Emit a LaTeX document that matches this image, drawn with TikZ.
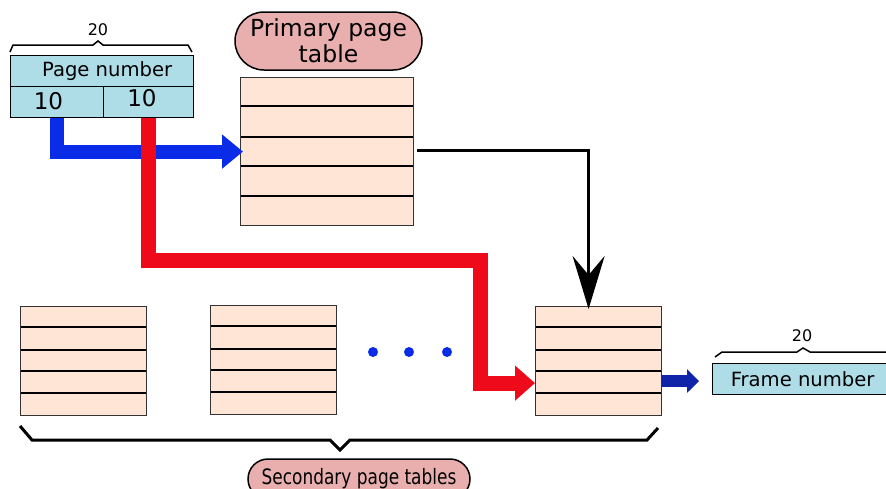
\documentclass[tikz,border=0pt]{standalone}
\usepackage{fontspec}
\setmainfont{DejaVu Sans}
\newfontfamily\condfont{DejaVu Sans}[FakeStretch=0.8]
\usetikzlibrary{arrows.meta,calc}
\definecolor{tblfill}{RGB}{255,229,213}
\definecolor{cellfill}{RGB}{174,221,232}
\definecolor{pillfill}{RGB}{232,175,174}
\definecolor{flowblue}{RGB}{10,43,232}
\definecolor{flowred}{RGB}{238,10,26}
\definecolor{flowdark}{RGB}{16,36,170}
\begin{document}
\begin{tikzpicture}[x=1pt,y=-1pt,
  tbl/.style={draw=black!80, line width=1.2pt, fill=tblfill, anchor=north west, inner sep=0pt,
    minimum width=126pt, minimum height=109pt},
  rowline/.style={line width=1.4pt, black},
  cell/.style={draw=black, line width=1.3pt, fill=cellfill, anchor=north west, inner sep=0pt,
    font=\fontsize{19.6}{22}\selectfont},
  celltext/.style={inner sep=0pt, font=\fontsize{23}{26}\selectfont},
  pill/.style={draw=black, line width=1.5pt, fill=pillfill, inner sep=0pt, align=center},
  bracket/.style={draw=black, line width=1.5pt, line join=miter},
  numlbl/.style={font=\fontsize{16}{18}\selectfont, inner sep=0pt},
  blueflow/.style={draw=flowblue, line width=14pt, line join=miter, -{Triangle[length=21pt,width=33pt]}},
  redflow/.style={draw=flowred, line width=15pt, line join=miter, -{Triangle[length=20pt,width=34pt]}},
  blkflow/.style={draw=black, line width=3pt, -{Stealth[length=53pt,width=32pt,inset=19pt]}},
  darkflow/.style={draw=flowdark, line width=12pt, -{Triangle[length=12pt,width=23pt]}},
  dot/.style={fill=flowblue}
]
\useasboundingbox (0,0) rectangle (886,488);

% page number
\node[cell, minimum width=183pt, minimum height=31pt] (pn) at (10,55) {\hspace*{10pt}Page number};
\node[cell, minimum width=93pt, minimum height=31pt] (lo) at (10,86) {};
\node[cell, minimum width=90pt, minimum height=31pt] (hi) at (103,86) {};
\node[celltext] (lotext) at (48.5,101.5) {10};
\node[celltext] (hitext) at (142,98.5) {10};
\node[numlbl] (n20a) at (98,29.5) {20};
\draw[bracket] (10,52) -- (13,45) -- (93,45) -- (98,41) -- (103,45) -- (188,45) -- (192,52);

% primary page table
\node[pill, minimum width=187pt, minimum height=58pt, rounded corners=29pt,
  font=\fontsize{23.5}{26}\selectfont] (ppt) at (328.5,41) {Primary page\\table};
\node[tbl, minimum width=173pt, minimum height=148pt] (pri) at (240,77) {};
\foreach \y in {29,60,89,119}
  \draw[rowline] ($(pri.north west)+(1,\y)$) -- ($(pri.north east)+(-1,\y)$);

% secondary tables
\node[tbl] (sec1) at (20,306) {};
\node[tbl] (sec2) at (210,305) {};
\node[tbl] (sec3) at (535,306) {};
\foreach \t in {sec1,sec2,sec3}
  \foreach \y in {21,44,65,87}
    \draw[rowline] ($(\t.north west)+(1,\y)$) -- ($(\t.north east)+(-1,\y)$);

\fill[dot] (373,352) circle (5);
\fill[dot] (409,352) circle (5);
\fill[dot] (447,352) circle (5);

% bottom brace and label
\draw[bracket, line width=3pt] (20,426) -- (32,440) -- (330,440) -- (340,450) -- (350,440) -- (647,440) -- (658,428);
\node[pill, minimum width=222pt, minimum height=40pt, rounded corners=20pt,
  font=\fontsize{21.2}{24}\condfont] (spt) at (359,479) {Secondary page tables};

% frame number
\node[cell, minimum width=180pt, minimum height=31pt] (fn) at (712,363) {Frame number};
\node[numlbl] (n20b) at (802,336) {20};
\draw[bracket] (715,357) -- (722,352) -- (797,352) -- (803,348) -- (810,352) -- (890,352);

% connectors
\draw[blueflow] (lo.south) -- (lo.south |- pri.west) -- ($(pri.west)+(3,0)$);
\draw[redflow] (hi.south) |- (480,260.5) |- ($(sec3.west)+(0,22)$);
\draw[blkflow] ($(pri.east)+(3,-1)$) -| ($(sec3.north)+(-10,3)$);
\coordinate (d0) at ($(sec3.east)+(0,20)$);
\draw[darkflow] (d0) -- ($(d0 -| fn.west)+(-13,0)$);
\end{tikzpicture}
\end{document}
